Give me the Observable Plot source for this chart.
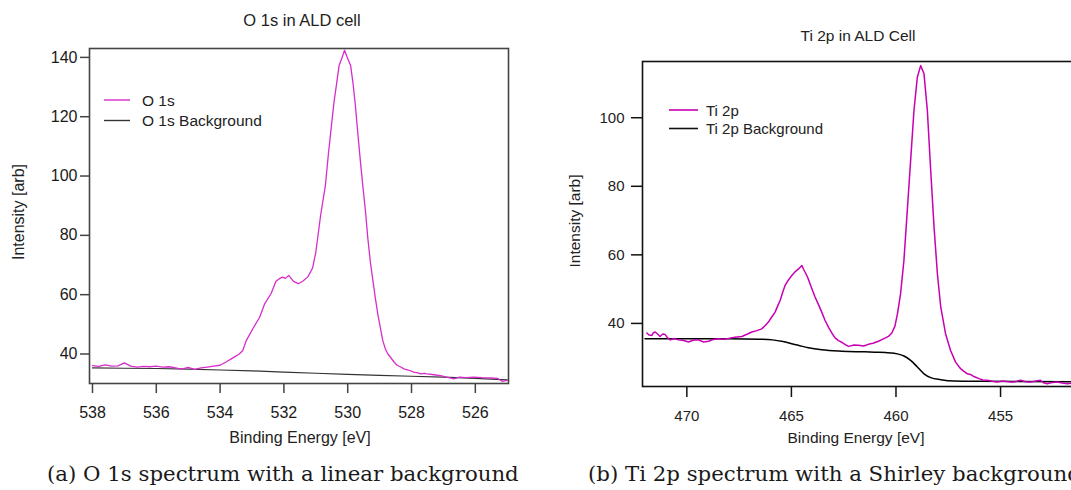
<!DOCTYPE html>
<html>
<head>
<meta charset="utf-8">
<script src="https://cdn.jsdelivr.net/npm/d3@7"></script>
<script src="https://cdn.jsdelivr.net/npm/@observablehq/plot@0.6"></script>
<style>
  html, body { margin: 0; padding: 0; background: #fff; overflow: hidden; }
  #root { position: relative; width: 1071px; height: 490px; overflow: hidden; background: #fff; }
  #root > svg, #root > div { position: absolute; }
</style>
</head>
<body>
<div id="root"></div>
<script>
// ---------- O 1s (left panel) ----------
const o1sEnergy = [538.0,537.8,537.6,537.4,537.2,537.0,536.8,536.6,536.4,536.2,536.0,535.8,535.6,535.4,535.2,535.0,534.8,534.6,534.4,534.2,534.0,533.8,533.6,533.4,533.29,533.18,532.97,532.76,532.6,532.4,532.25,532.14,532.05,531.95,531.85,531.7,531.55,531.4,531.25,531.1,531.0,530.85,530.7,530.6,530.5,530.43,530.35,530.27,530.17,530.1,530.02,529.91,529.83,529.76,529.68,529.6,529.52,529.44,529.37,529.29,529.2,529.13,529.05,528.97,528.9,528.82,528.74,528.66,528.55,528.45,528.35,528.24,528.1,527.93,527.8,527.72,527.6,527.51,527.3,527.09,526.9,526.67,526.5,526.3,526.05,525.8,525.5,525.31,525.16,525.0];
const o1sIntensity = [36.1,35.8,36.3,35.9,36.0,37.0,35.9,35.6,35.8,35.7,35.9,35.6,35.7,35.3,34.9,35.5,34.8,35.3,35.6,35.9,36.2,37.4,38.7,40.0,41.2,44.5,48.6,52.4,57.0,60.4,64.5,65.4,65.9,65.5,66.5,64.5,63.7,64.6,66.0,69.0,74.3,86.7,96.8,108,118,124.9,131,137.3,140.1,142.4,140.1,137.3,131,123.8,114,104.7,96,87.8,79,71.0,64,58.6,53,48.5,44.5,41.7,40.0,38.9,37.3,36.2,35.7,35.0,34.6,33.9,33.6,33.3,33.5,33.3,33.0,32.7,32.2,31.6,32.2,32.0,32.2,32.0,31.9,31.8,30.8,31.1];
const o1sBgEnergy = [538,537,536,535,534,533,532,531,530,529,528,527,526,525];
const o1sBgIntensity = [35.3,35.2,35.1,34.9,34.6,34.3,33.9,33.5,33.1,32.8,32.5,32.2,31.8,31.3];
const o1sXTicks = [538,536,534,532,530,528,526];
const o1sYTicks = [40,60,80,100,120,140];

// ---------- Ti 2p (right panel) ----------
const ti2pEnergy = [471.91,471.8,471.67,471.6,471.51,471.4,471.28,471.15,471.04,470.92,470.8,470.6,470.4,470.15,469.92,469.7,469.44,469.2,468.96,468.75,468.49,468.25,468.01,467.7,467.37,467.1,466.89,466.65,466.42,466.25,466.1,465.95,465.78,465.65,465.54,465.42,465.3,465.15,464.98,464.8,464.66,464.5,464.42,464.35,464.22,464.11,463.99,463.87,463.7,463.55,463.4,463.23,463.05,462.91,462.75,462.59,462.42,462.27,462.0,461.8,461.55,461.32,461.1,460.84,460.6,460.36,460.2,460.05,459.93,459.78,459.62,459.46,459.3,459.14,458.98,458.82,458.66,458.5,458.34,458.18,458.02,457.86,457.63,457.39,457.15,456.91,456.75,456.59,456.4,456.27,456.03,455.85,455.63,455.4,455.16,454.9,454.52,454.3,454.04,453.8,453.56,453.3,453.09,452.95,452.77,452.5,452.29,452.05,451.81,451.6];
const ti2pIntensity = [37.2,36.6,36.5,37.3,37.5,36.9,36.2,36.9,36.8,35.8,35.2,35.6,35.2,35.0,34.6,35.1,35.2,34.6,34.8,35.3,35.5,35.4,35.6,36.0,36.2,36.9,37.5,37.9,38.4,39.4,40.4,41.8,43.3,45.2,46.7,49.0,51.1,52.6,54.0,55.2,55.9,56.9,55.8,55.0,53.4,51.6,49.6,47.7,45.4,43.3,41.0,38.9,37.0,35.8,35.0,34.5,33.8,33.3,33.7,33.6,33.4,33.9,34.2,34.8,35.5,36.2,37.2,39.2,42.8,48.7,58.4,72.9,87.5,102.1,111.8,115.2,112.8,102.1,84.6,68.1,54.5,44.8,37.0,32.1,28.7,26.8,26.0,25.3,25.0,24.5,23.9,23.5,23.4,23.1,22.9,23.2,22.9,23.0,23.4,23.0,22.9,23.2,23.4,22.7,22.4,22.8,22.9,22.6,22.4,22.6];
const ti2pBgEnergy = [472.0,470,468,466.5,465.9,465.4,464.98,464.6,464.19,463.55,462.59,461.5,461.0,460.5,460.09,459.8,459.62,459.3,458.98,458.66,458.34,457.86,457.23,456,451.6];
const ti2pBgIntensity = [35.5,35.5,35.5,35.4,35.2,34.7,34.1,33.5,32.9,32.3,31.9,31.7,31.6,31.5,31.3,30.9,30.5,29.2,27.3,25.3,24.2,23.6,23.2,23.1,23.0];
const ti2pXTicks = [470,465,460,455];
const ti2pYTicks = [40,60,80,100];

const zip = (xs, ys) => xs.map((x, i) => ({E: x, I: ys[i]}));
const root = document.getElementById("root");

// ---------- left plot ----------
const left = Plot.plot({
  width: 540, height: 490,
  marginLeft: 89, marginRight: 32, marginTop: 48, marginBottom: 107,
  style: {fontFamily: "'Liberation Sans', Arial, sans-serif", fontSize: "16px", color: "#1a1a1a", background: "transparent"},
  x: {domain: [538.094, 524.96], label: null},
  y: {domain: [30.05, 143.0], label: null},
  marks: [
    Plot.axisX({ticks: o1sXTicks, tickSize: 10, tickPadding: 13, stroke: "#444", strokeWidth: 1.5, fontSize: 16, label: null}),
    Plot.axisY({ticks: o1sYTicks, tickSize: 9, tickPadding: 3, stroke: "#444", strokeWidth: 1.5, fontSize: 16, label: null}),
    Plot.line(zip(o1sBgEnergy, o1sBgIntensity), {x: "E", y: "I", stroke: "#333", strokeWidth: 1.2}),
    Plot.line(zip(o1sEnergy, o1sIntensity), {x: "E", y: "I", stroke: "#d82ccb", strokeWidth: 1.3}),
    Plot.frame({stroke: "#444", strokeWidth: 1.6})
  ]
});
left.style.left = "0px"; left.style.top = "0px";
root.appendChild(left);

// ---------- right plot ----------
const right = Plot.plot({
  width: 534, height: 490,
  marginLeft: 102, marginRight: 2, marginTop: 61, marginBottom: 104,
  style: {fontFamily: "'Liberation Sans', Arial, sans-serif", fontSize: "15px", color: "#222", background: "transparent"},
  x: {domain: [472.12, 451.56], label: null},
  y: {domain: [21.6, 116.4], label: null},
  marks: [
    Plot.axisX({ticks: ti2pXTicks, tickSize: 11, tickPadding: 13, stroke: "#111", strokeWidth: 1.5, fontSize: 15, label: null}),
    Plot.axisY({ticks: ti2pYTicks, tickSize: 11, tickPadding: 7, stroke: "#111", strokeWidth: 1.5, fontSize: 15, label: null}),
    Plot.line(zip(ti2pBgEnergy, ti2pBgIntensity), {x: "E", y: "I", stroke: "#000", strokeWidth: 1.5, curve: "monotone-x"}),
    Plot.line(zip(ti2pEnergy, ti2pIntensity), {x: "E", y: "I", stroke: "#c800b4", strokeWidth: 1.5}),
    Plot.frame({stroke: "#111", strokeWidth: 1.6})
  ]
});
right.style.left = "540px"; right.style.top = "0px";
root.appendChild(right);

// ---------- text overlay ----------
const NS = "http://www.w3.org/2000/svg";
const ov = document.createElementNS(NS, "svg");
ov.setAttribute("width", 1071); ov.setAttribute("height", 490);
ov.style.left = "0px"; ov.style.top = "0px"; ov.style.pointerEvents = "none";
root.appendChild(ov);
function txt(s, x, y, o = {}) {
  const t = document.createElementNS(NS, "text");
  t.textContent = s;
  t.setAttribute("x", x); t.setAttribute("y", y);
  t.setAttribute("text-anchor", o.anchor || "middle");
  t.setAttribute("font-family", o.family || "'Liberation Sans', Arial, sans-serif");
  t.setAttribute("font-size", o.size || 16);
  t.setAttribute("fill", o.fill || "#222");
  if (o.rotate) t.setAttribute("transform", `rotate(-90 ${x} ${y})`);
  if (o.clip) t.setAttribute("clip-path", o.clip);
  ov.appendChild(t);
  return t;
}
function line(x1, x2, y, color, w) {
  const l = document.createElementNS(NS, "line");
  l.setAttribute("x1", x1); l.setAttribute("x2", x2); l.setAttribute("y1", y); l.setAttribute("y2", y);
  l.setAttribute("stroke", color); l.setAttribute("stroke-width", w);
  ov.appendChild(l);
}
// clip for the cut-off left x-axis title
const defs = document.createElementNS(NS, "defs");
const cp = document.createElementNS(NS, "clipPath"); cp.setAttribute("id", "cutL");
const cr = document.createElementNS(NS, "rect");
cr.setAttribute("x", 0); cr.setAttribute("y", 0); cr.setAttribute("width", 540); cr.setAttribute("height", 446.5);
cp.appendChild(cr); defs.appendChild(cp); ov.appendChild(defs);

// titles
txt("O 1s in ALD cell", 302, 26, {size: 16.5});
txt("Ti 2p in ALD Cell", 858, 41, {size: 15.5});
// axis titles
txt("Binding Energy [eV]", 300, 443, {size: 16, clip: "url(#cutL)"});
txt("Binding Energy [eV]", 856, 443, {size: 15.5});
txt("Intensity [arb]", 24, 212, {size: 16, rotate: true});
txt("Intensity [arb]", 580, 221, {size: 15.5, rotate: true});
// legends
line(104, 130, 100, "#d82ccb", 1.4);
line(104, 130, 120.5, "#333", 1.4);
txt("O 1s", 142, 105.5, {anchor: "start", size: 15.5});
txt("O 1s Background", 142, 126, {anchor: "start", size: 15.5});
line(669, 698, 110, "#c800b4", 1.6);
line(669, 698, 128.5, "#111", 1.6);
txt("Ti 2p", 706, 115.5, {anchor: "start", size: 15});
txt("Ti 2p Background", 706, 134, {anchor: "start", size: 15});
// captions (sized so the left caption spans about 47..519 px)
const serif = "'DejaVu Serif', 'Liberation Serif', serif";
const capA = txt("(a) O 1s spectrum with a linear background", 47, 481, {anchor: "start", size: 20, family: serif, fill: "#1a1a1a"});
const capB = txt("(b) Ti 2p spectrum with a Shirley background", 588, 481, {anchor: "start", size: 20, family: serif, fill: "#1a1a1a"});
const lenA = capA.getComputedTextLength();
if (lenA > 0) {
  const fs = 20 * 472 / lenA;
  capA.setAttribute("font-size", fs);
  capB.setAttribute("font-size", fs);
}
</script>
</body>
</html>
